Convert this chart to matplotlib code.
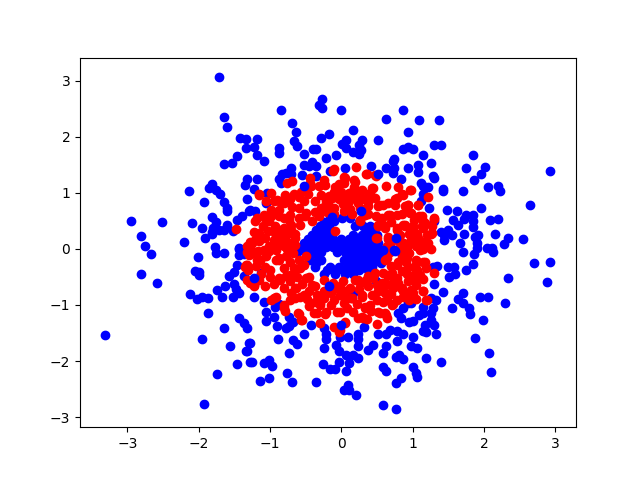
import matplotlib
matplotlib.use("Agg")
import matplotlib.pyplot as plt

# outer blue points, drawn below the red ring
blue_back = [
    (-1.71,3.07),(-1.65,2.35),(-1.61,2.17),(-1.42,1.98),(-1.34,1.95),(-1.34,1.80),(-1.47,1.66),(-1.54,1.53),
    (-1.65,1.51),(-1.33,1.25),(-1.35,1.14),(-1.81,1.16),(-1.85,1.08),(-2.13,1.03),(-1.76,1.05),(-1.70,0.98),
    (-1.92,0.83),(-1.64,0.83),(-1.60,0.73),(-1.61,0.67),(-1.32,0.89),(-1.82,0.57),(-2.95,0.49),(-2.51,0.47),
    (-2.09,0.46),(-1.96,0.37),(-1.76,0.48),(-1.80,0.38),(-1.72,0.34),(-1.82,0.30),(-1.65,0.34),(-1.60,0.43),
    (-1.52,0.32),(-1.91,0.19),(-1.82,0.26),(-1.46,0.51),(-1.40,0.58),(-1.30,0.67),(-2.81,0.23),(-2.75,0.05),
    (-2.20,0.12),(-1.77,0.04),(-1.43,0.02),
    (-2.67,-0.10),(-2.01,-0.15),(-1.76,-0.08),(-1.65,-0.08),(-2.81,-0.45),(-2.59,-0.61),(-2.05,-0.40),
    (-1.99,-0.42),(-1.99,-0.47),(-1.43,0.00),(-1.43,-0.11),(-1.37,-0.09),(-1.46,-0.29),(-1.50,-0.42),
    (-1.58,-0.49),(-1.36,-0.48),(-1.75,-0.74),(-1.63,-0.67),(-1.51,-0.63),(-1.48,-0.72),(-1.44,-0.78),
    (-1.68,-0.85),(-1.52,-0.86),(-2.12,-0.81),(-2.02,-0.89),(-1.96,-0.85),(-1.87,-0.88),(-1.87,-1.15),
    (-1.44,-1.24),(-1.37,-1.33),(-1.33,-1.42),(-1.65,-1.42),(-3.31,-1.54),(-1.95,-1.61),(-1.56,-1.74),
    (-1.29,-1.67),(-1.34,-1.83),(-1.47,-2.06),(-1.28,-2.02),(-1.74,-2.24),(-1.92,-2.76),
    (-0.84,2.47),(-0.27,2.67),(-0.32,2.56),(-0.27,2.51),(0.00,2.47),(0.87,2.47),(0.63,2.31),(-0.69,2.24),
    (-0.64,2.08),(0.16,2.12),(0.94,2.08),(-0.17,2.05),(-0.29,1.98),(-0.67,1.92),(-0.62,1.83),(-0.53,1.69),
    (-1.18,1.96),(-1.23,1.82),(-1.19,1.67),(-1.09,1.57),(-0.87,1.80),(-0.87,1.71),(-0.40,1.78),(-0.35,1.78),
    (-0.22,1.62),(-0.08,1.67),(0.06,1.94),(0.01,1.87),(0.06,1.80),(0.29,1.94),(0.25,1.85),(0.17,1.73),
    (0.25,1.69),(0.27,1.76),(0.52,1.94),(0.87,1.78),(0.94,1.81),(0.74,1.60),(0.72,1.57),(0.94,1.44),
    (0.05,1.45),(0.42,1.47),(0.62,1.45),(0.74,1.44),(0.72,1.35),(0.84,1.24),(-0.53,1.49),
    (-0.41,1.55),(-0.35,1.48),(-0.46,1.48),(-0.70,1.44),(-0.77,1.36),(-0.83,1.33),(-0.71,1.33),(-0.88,1.24),
    (-0.85,1.17),(-0.55,1.31),(-0.35,1.30),(-0.16,1.39),(-1.19,1.24),(-1.23,1.07),(-1.04,0.99),(-1.05,0.82),
    (-1.28,0.69),(-1.21,0.67),
    (-1.13,-0.43),(0.49,-0.57),(0.17,-0.79),
    (-1.23,-0.85),(-1.09,-0.95),(-1.06,-1.12),(-1.06,-1.28),(-0.94,-1.22),(-0.90,-1.38),(-0.88,-0.99),
    (-0.93,-1.03),(-0.73,-1.21),(-0.68,-1.31),(-0.77,-1.42),(-0.73,-1.38),(-0.42,-1.36),(-0.52,-1.52),
    (-0.68,-1.62),(-0.62,-1.70),(-0.89,-1.61),(-1.28,-1.67),(-1.33,-1.83),(-0.73,-1.86),(-1.25,-2.02),
    (-1.08,-2.04),(-1.02,-1.98),(-0.97,-2.08),(-1.14,-2.36),(-1.01,-2.31),(-0.76,-2.22),(-0.69,-2.38),
    (-0.36,-2.38),(-0.26,-2.06),(-0.25,-1.76),(-0.25,-1.42),(-0.22,-1.52),(-0.22,-1.61),(0.09,-1.58),
    (-0.02,-1.58),(-0.07,-1.72),(-0.04,-1.83),(0.06,-1.90),(0.17,-1.90),(0.23,-1.94),(0.24,-1.52),
    (0.24,-1.60),(0.24,-1.74),(0.32,-1.40),(0.38,-1.81),(0.44,-1.72),(0.52,-1.52),(0.62,-1.51),(0.68,-1.44),
    (0.78,-1.47),(0.87,-1.51),(0.78,-1.65),(0.62,-1.74),(0.59,-1.85),(0.76,-1.92),(0.81,-1.90),(0.86,-1.97),
    (-0.04,-2.01),(0.11,-2.04),(-0.16,-2.15),(-0.09,-2.15),(0.06,-2.17),(0.58,-2.11),(0.62,-2.17),(0.84,-2.31),
    (0.77,-2.40),(0.09,-2.43),(0.04,-2.52),(0.11,-2.51),(0.20,-2.60),(0.58,-2.79),(0.76,-2.85),(0.83,-1.24),
    (0.86,-1.06),(0.79,-1.15),(0.94,-0.97),(0.95,-1.30),
    (1.09,2.30),(1.37,2.30),(1.30,1.85),(1.40,1.85),(1.00,1.78),(1.15,1.67),(1.84,1.67),(1.26,1.53),(1.08,1.49),
    (1.08,1.37),(1.75,1.44),(2.02,1.46),(1.96,1.33),(1.86,1.23),(2.93,1.39),(1.28,1.30),(1.30,1.26),(1.12,1.17),
    (1.22,1.10),(1.15,1.12),(1.43,1.07),(1.42,1.03),(1.71,1.03),(2.05,1.10),(2.19,1.12),(2.23,1.03),(1.15,0.97),
    (2.64,0.78),(1.96,0.73),(1.48,0.69),(1.23,0.73),(1.12,0.85),(1.62,0.67),(1.75,0.60),(1.85,0.60),(1.57,0.51),
    (1.72,0.53),(1.84,0.49),(1.84,0.39),(1.64,0.42),(2.09,0.51),(2.19,0.53),(1.50,0.33),(1.39,0.30),(1.44,0.15),
    (1.44,0.25),(1.55,0.24),(1.72,0.26),(1.66,0.10),(1.92,0.24),(1.87,0.22),(2.16,0.27),(1.90,0.10),(2.33,0.19),
    (2.28,0.08),(2.54,0.17),(2.04,0.02),(2.11,0.01),(1.30,0.50),
    (1.70,-0.05),(1.86,-0.10),(1.90,0.02),(2.12,-0.05),(2.70,-0.26),(2.93,-0.24),(2.89,-0.59),(2.33,-0.52),
    (1.85,-0.27),(1.75,-0.38),(1.58,-0.33),(1.50,-0.33),(1.51,-0.51),(1.60,-0.45),(1.34,-0.31),(1.28,-0.33),
    (1.30,-0.63),(1.43,-0.77),(1.71,-0.79),(1.63,-0.90),(1.70,-0.97),(1.55,-1.06),(1.79,-1.06),(1.81,-1.17),
    (1.95,-0.85),(2.05,-0.85),(2.30,-0.97),(1.98,-1.26),(1.88,-1.59),(2.07,-1.86),(2.10,-2.20),(1.40,-2.01),
    (1.19,-1.95),(1.01,-2.11),(1.04,-2.22),(1.06,-2.29),(1.06,-1.76),(0.97,-1.74),(1.00,-1.58),(1.32,-1.52),
    (1.18,-1.49),(1.14,-1.47),(1.30,-1.35),(1.17,-1.36),(1.25,-1.27),(1.25,-1.15),(1.14,-1.15),(1.09,-1.18),
    (1.00,-1.29),(1.15,-1.03),(1.29,-1.06),(1.32,-0.91),(1.26,-0.88),(0.97,-0.97),
]

# the dense blue core
blue_center = [
    (-0.16,0.55),(0.01,0.55),(0.12,0.55),(-0.10,0.50),(-0.24,0.47),(0.25,0.47),
    (-0.30,0.40),(-0.18,0.40),(0.19,0.40),(0.31,0.40),(0.40,0.40),(-0.36,0.33),(-0.24,0.32),(0.36,0.33),(0.45,0.33),
    (-0.41,0.25),(-0.30,0.25),(-0.18,0.25),(0.17,0.25),(0.29,0.25),(0.40,0.25),(0.50,0.25),
    (-0.47,0.18),(-0.35,0.18),(-0.24,0.18),(-0.12,0.18),(0.00,0.18),(0.11,0.18),(0.23,0.18),(0.35,0.18),(0.46,0.18),
    (-0.53,0.10),(-0.41,0.10),(-0.30,0.10),(-0.18,0.10),(-0.06,0.10),(0.05,0.10),(0.17,0.10),(0.29,0.10),(0.40,0.10),(0.52,0.10),
    (-0.57,0.03),(-0.45,0.03),(-0.34,0.03),(-0.22,0.03),(-0.12,0.03),(0.00,0.03),(0.11,0.03),(0.23,0.03),(0.35,0.03),(0.46,0.03),
    (-0.62,-0.05),(-0.51,-0.05),(-0.39,-0.05),(-0.28,-0.05),(-0.06,-0.05),(0.05,-0.05),(0.17,-0.05),(0.29,-0.05),(0.40,-0.05),(0.52,-0.05),
    (-0.45,-0.12),(-0.33,-0.12),(0.11,-0.12),(0.23,-0.12),(0.35,-0.12),(0.46,-0.12),(0.57,-0.12),
    (-0.44,-0.20),(-0.28,-0.20),(0.03,-0.20),(0.15,-0.20),(0.26,-0.20),(0.38,-0.20),(0.50,-0.20),(0.59,-0.20),
    (-0.36,-0.26),(0.09,-0.26),(0.21,-0.26),(0.32,-0.26),(0.44,-0.26),(0.55,-0.26),
    (-0.37,-0.32),(-0.16,-0.32),(-0.04,-0.32),(0.08,-0.32),(0.19,-0.32),(0.31,-0.32),(0.43,-0.32),
    (-0.20,-0.38),(-0.10,-0.38),(0.02,-0.38),(0.13,-0.38),(0.25,-0.38),(0.37,-0.38),
    (-0.25,-0.44),(-0.09,-0.44),(0.05,-0.44),(0.17,-0.44),
]

red = [
    (-1.48,0.35),(-1.34,-0.29),(-1.33,-0.05),(-1.33,-0.55),(-1.31,-0.38),(-1.33,0.05),(-1.28,0.13),
    (-0.10,1.42),(-0.12,1.39),(0.21,1.46),(0.35,1.33),(0.48,1.30),(0.62,1.12),(0.79,1.10),(0.96,1.05),
    (0.44,1.08),(0.18,1.23),(0.04,1.28),(-0.04,1.15),(0.04,1.17),(0.18,1.10),(-0.10,1.01),(-0.25,1.23),
    (-0.32,1.12),(-0.44,1.26),(-0.42,1.12),(-0.69,1.21),(-0.76,1.17),(-1.16,0.98),(-0.98,0.99),(-0.88,0.85),
    (-0.67,0.98),(-0.53,0.85),(-0.81,0.82),(-0.29,0.96),(-0.18,0.94),(0.10,0.99),(0.24,0.98),(0.38,0.94),
    (0.38,0.76),(0.24,0.82),(0.10,0.85),(-0.04,0.88),(-0.18,0.76),(-0.29,0.73),(-0.32,0.58),(-0.41,0.49),
    (-0.50,0.64),(-0.60,0.55),(-0.72,0.61),(-0.81,0.55),(-0.88,0.70),(-0.98,0.70),(-1.09,0.61),(-1.21,0.49),
    (-1.02,0.49),(-0.93,0.40),(-1.03,0.32),(-0.81,0.37),(-0.70,0.43),(-0.76,0.26),(-0.88,0.26),(-0.65,0.26),
    (-0.86,0.11),(-0.74,0.11),(-1.16,0.14),(-1.26,0.11),(-1.02,0.05),(0.59,0.79),(0.52,0.76),(0.75,0.88),
    (0.85,0.97),(0.89,0.76),(0.68,0.61),(0.94,0.67),(0.52,0.40),(0.61,0.37),(0.78,0.34),(0.89,0.40),(0.49,0.20),
    (0.66,0.17),(0.87,0.11),(0.64,0.05),(0.26,0.49),(0.33,0.61),(0.03,0.67),(-0.11,0.73),(0.12,0.71),(-0.09,0.31),
    (-0.49,-0.12),(-0.25,-0.55),(-1.23,-0.64),(-1.35,-0.32),(-1.19,-0.20),(-1.28,0.02),(-1.09,-0.02),(-0.91,-0.02),
    (-0.88,-0.20),(-1.07,-0.32),(-1.07,-0.67),(-0.88,-0.52),(-0.81,-0.70),(-0.95,-0.88),(-0.81,-1.06),(-0.72,-0.23),
    (-0.67,-0.43),(-0.72,-0.58),(-0.58,-0.85),(-0.65,-0.70),(-0.49,-0.52),(-0.41,-0.64),(-0.58,-0.35),(-0.61,-1.15),
    (-0.56,-1.27),(-0.39,-1.15),(-0.23,-1.17),(-0.30,-1.33),(-0.30,-0.97),(-0.25,-0.76),(-0.34,-0.82),(-0.02,-1.12),
    (-0.11,-0.91),(0.05,-1.33),(-0.11,-1.39),(-0.03,-1.48),(-0.02,-0.67),(0.15,-0.88),(0.03,-0.85),(0.17,-1.12),
    (0.31,-1.24),(0.23,-1.24),(0.33,-1.06),(0.29,-0.82),(0.24,-0.55),(0.38,-0.67),(0.47,-0.43),(0.43,-0.82),
    (0.50,-1.34),(0.54,-1.15),(0.63,-1.18),(0.71,-1.00),(0.59,-0.94),(0.57,-0.61),(0.64,-0.47),(0.59,-0.76),
    (0.73,-0.70),(0.84,-0.70),(0.87,-0.85),(0.78,-0.52),(0.94,-0.58),(0.91,-0.23),(0.78,-0.29),(0.64,-0.17),(0.91,-0.05),
    (0.98,1.05),(1.22,0.92),(1.08,0.78),(0.94,0.79),(0.97,0.64),(1.09,0.58),(1.30,0.54),(1.15,0.49),(1.27,0.40),
    (1.01,0.37),(1.13,0.40),(1.06,0.27),(1.26,0.26),(1.14,0.13),(1.22,0.11),(0.92,0.08),(0.89,0.43),
    (1.15,0.00),(1.05,-0.20),(1.15,-0.23),(0.94,-0.32),(1.05,-0.38),(1.30,-0.43),(0.98,-0.49),(1.15,-0.54),
    (1.05,-0.64),(1.15,-0.76),(0.97,-0.73),(0.92,-0.82),(1.19,-0.92),
    # second pass, ring upper left
    (-1.16,0.96),(-0.90,0.87),(-0.79,0.96),(-0.56,1.02),(-0.44,1.17),(-0.23,1.14),(-0.09,1.11),(0.00,1.02),
    (-0.13,0.90),(-0.25,0.75),(-0.37,0.66),(-0.51,0.58),(-0.60,0.73),(-0.69,0.75),(-0.97,0.66),(-1.07,0.55),
    (-1.18,0.55),(-0.88,0.58),(-0.98,0.58),(-0.73,0.52),(-0.58,0.43),(-0.70,0.34),(-0.84,0.34),(-0.93,0.28),
    (-1.07,0.19),(-1.21,0.16),(-1.28,0.05),(-1.17,-0.04),(-1.02,-0.04),(-0.90,0.05),(-0.79,0.19),(-0.65,0.19),
    (-0.76,-0.01),(-0.65,0.07),(-0.88,-0.17),(-1.14,-0.19),(-1.30,-0.11),
    # ring lower left
    (-1.33,-0.29),(-1.14,-0.20),(-0.91,-0.20),(-0.67,-0.35),(-0.72,-0.46),(-0.53,-0.29),(-0.46,-0.50),(-0.86,-0.55),
    (-0.91,-0.85),(-0.98,-0.91),(-0.81,-1.00),(-0.63,-0.70),(-0.53,-0.82),(-0.65,-0.88),(-0.30,-1.00),(-0.37,-0.94),
    (-0.25,-0.88),(-0.07,-0.70),(-0.02,-0.82),(-0.32,-0.85),(-0.22,-1.12),(-0.34,-1.15),(-0.06,-1.12),(0.03,-0.97),
    (0.12,-0.88),(-0.37,-0.67),(-1.23,-0.67),(-1.28,-0.61),(-0.60,-1.17),(-0.55,-1.27),(-0.02,-1.45),(-0.79,-1.10),
    # ring lower right
    (0.61,-0.20),(0.80,-0.23),(0.92,-0.17),(1.06,-0.23),(1.17,-0.23),(1.06,-0.38),(1.01,-0.49),(0.59,-0.43),
    (0.71,-0.43),(0.38,-0.49),(0.26,-0.61),(0.19,-0.55),(0.50,-0.64),(0.61,-0.61),(0.68,-0.64),(0.61,-0.79),
    (0.64,-0.91),(0.73,-0.99),(0.85,-0.70),(0.87,-0.76),(1.01,-0.79),(1.15,-0.75),(1.20,-0.91),(0.15,-0.88),
    (0.29,-0.85),(0.40,-1.00),(0.33,-1.03),(0.29,-1.21),(0.36,-1.25),(0.52,-1.12),(0.61,-1.15),(0.64,-1.24),
    (0.07,-0.76),(0.05,-1.30),
    # ring upper right
    (0.36,1.33),(0.47,1.32),(0.19,1.20),(0.05,1.26),(0.43,1.08),(0.40,0.99),(0.29,1.05),(0.15,1.02),(0.10,0.90),
    (0.26,0.88),(0.07,0.73),(0.26,0.73),(0.38,0.84),(0.54,0.79),(0.66,0.82),(0.78,0.90),(0.87,0.96),(0.75,0.79),
    (0.94,0.79),(1.08,0.79),(0.66,0.61),(0.96,0.64),(1.13,0.58),(1.30,0.55),(1.17,0.46),(1.27,0.28),(1.15,0.37),
    (1.01,0.40),(0.87,0.43),(0.78,0.37),(0.61,0.40),(0.52,0.42),(0.50,0.19),(0.66,0.22),(0.68,0.07),(0.92,0.04),
    (0.87,0.10),(1.15,0.10),(1.20,0.10),(1.10,-0.02),(0.26,0.52),(0.68,-0.05),
    # third pass, gaps left in the ring
    (-1.05,0.85),(-0.95,0.85),(-0.72,0.88),(-0.60,0.92),(-0.47,0.97),(-0.37,0.85),(-0.22,0.85),(-0.05,0.98),(0.05,0.92),
    (0.18,0.92),(0.32,0.88),(0.47,0.90),(-0.20,0.65),(-0.10,0.62),(0.02,0.80),(0.15,0.62),(0.38,0.62),(0.48,0.58),
    (0.57,0.55),(0.78,0.60),(0.85,0.62),(1.02,0.52),(0.70,0.47),(0.82,0.25),(0.95,0.27),(1.08,0.20),(1.20,0.25),
    (0.78,0.15),(0.98,0.15),(1.05,0.05),(0.80,0.00),(0.95,-0.08),(1.25,0.00),(0.85,-0.12),(1.03,-0.30),(0.85,-0.40),
    (0.70,-0.30),(1.18,-0.35),(1.10,-0.47),(0.92,-0.45),
    (-1.10,0.40),(-1.15,0.28),(-1.22,0.30),(-0.95,0.15),(-0.98,0.05),(-0.80,0.05),(-0.68,-0.08),(-0.78,-0.12),
    (-1.05,-0.12),(-1.20,-0.10),(-1.20,-0.30),(-1.12,-0.45),(-1.00,-0.38),(-1.00,-0.50),(-0.95,-0.62),(-1.15,-0.55),
    (-0.80,-0.35),(-0.78,-0.48),(-0.60,-0.20),(-0.62,-0.50),(-0.55,-0.62),
    (-0.70,-0.78),(-0.72,-0.92),(-0.45,-0.75),(-0.48,-0.90),(-0.45,-1.02),(-0.15,-0.78),(-0.15,-1.00),(-0.12,-0.60),
    (0.02,-0.58),(0.12,-0.70),(0.25,-0.72),(0.22,-0.98),(0.08,-1.05),(0.35,-0.55),(0.45,-0.52),(0.52,-0.75),(0.50,-0.92),
    (0.70,-0.80),(0.78,-0.92),(0.95,-0.92),(1.05,-0.90),(0.80,-0.60),(1.03,-0.55),(0.42,-1.10),(0.73,-0.52),
]

# blue points that sit on top of the red ring
blue_front = [
    (-0.53,1.12),(-0.13,0.57),(0.28,0.67),(0.76,0.19),(0.75,-0.03),(-1.23,-0.52),(-0.18,-0.67),(0.00,-1.36),
    (0.74,-0.02),(0.52,1.33),(0.58,-0.02),
]

fig, ax = plt.subplots(figsize=(6.4, 4.8), dpi=100)
ax.scatter(*zip(*blue_back), c="blue")
ax.scatter(*zip(*blue_center), c="blue")
ax.scatter(*zip(*red), c="red")
ax.scatter(*zip(*blue_front), c="blue")
ax.set_xlim(-3.665, 3.29)
ax.set_ylim(-3.18, 3.41)

fig.savefig("out.png", dpi=100)
